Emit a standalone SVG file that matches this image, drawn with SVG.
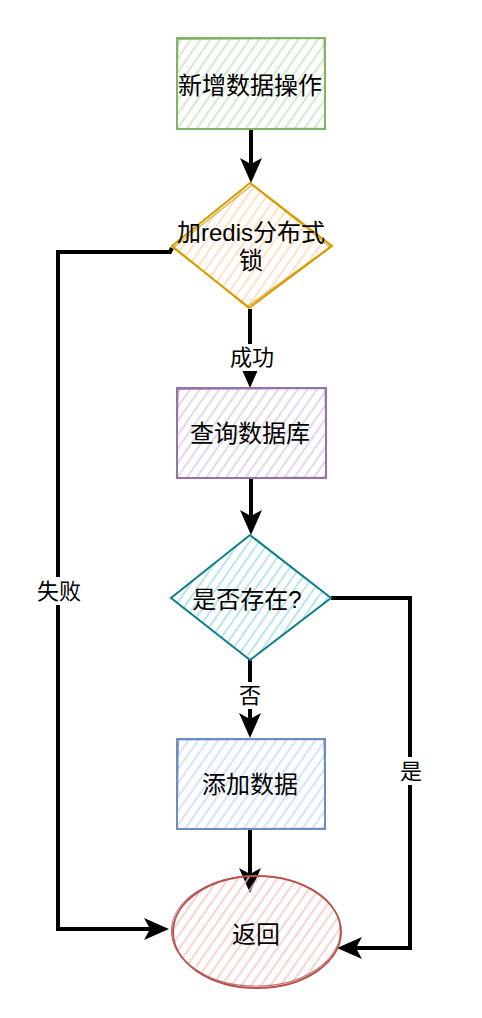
<svg xmlns="http://www.w3.org/2000/svg" width="482" height="1018" viewBox="0 0 482 1018">
<style>
  text { font-family: "Liberation Sans", "Noto Sans CJK SC", sans-serif; fill: #000; text-anchor: middle; dominant-baseline: central; }
  .nt { font-size: 24px; }
  .lt { font-size: 22px; }
  .edge { fill: none; stroke: #000; stroke-width: 4; stroke-linejoin: miter; marker-end: url(#arrow); }
  .lbg { fill: #fff; }
  .o2 { fill: none; stroke-width: 1.2; opacity: 0.8; }
</style>
<defs>
  <marker id="arrow" markerUnits="userSpaceOnUse" viewBox="-14 -12 28 24" refX="0" refY="0" markerWidth="28" markerHeight="24" orient="auto">
    <path d="M12,0 L-13,-11 L-7,0 L-13,11 Z" fill="#000"/>
  </marker>
  <pattern id="hG" width="8" height="8" patternUnits="userSpaceOnUse" patternTransform="rotate(35)"><line x1="3" y1="0" x2="3" y2="8" stroke="#c6e2c3" stroke-width="1.5"/></pattern>
  <pattern id="hO" width="8" height="8" patternUnits="userSpaceOnUse" patternTransform="rotate(35)"><line x1="3" y1="0" x2="3" y2="8" stroke="#ffd9b3" stroke-width="1.5"/></pattern>
  <pattern id="hP" width="8" height="8" patternUnits="userSpaceOnUse" patternTransform="rotate(35)"><line x1="3" y1="0" x2="3" y2="8" stroke="#dacbe3" stroke-width="1.5"/></pattern>
  <pattern id="hT" width="8" height="8" patternUnits="userSpaceOnUse" patternTransform="rotate(35)"><line x1="3" y1="0" x2="3" y2="8" stroke="#a6dde0" stroke-width="1.5"/></pattern>
  <pattern id="hB" width="8" height="8" patternUnits="userSpaceOnUse" patternTransform="rotate(35)"><line x1="3" y1="0" x2="3" y2="8" stroke="#c8dbf6" stroke-width="1.5"/></pattern>
  <pattern id="hR" width="8" height="8" patternUnits="userSpaceOnUse" patternTransform="rotate(35)"><line x1="3" y1="0" x2="3" y2="8" stroke="#f5c4c2" stroke-width="1.5"/></pattern>
</defs>
<rect width="482" height="1018" fill="#fff"/>

<g id="connectors">
  <path class="edge" d="M251,129 L251,171"/>
  <path class="edge" d="M250,309 L250,376"/>
  <path class="edge" d="M251,478 L251,523"/>
  <path class="edge" d="M250,660 L250,726"/>
  <path class="edge" d="M250,829 L250,881"/>
  <path class="edge" d="M172,248 L170,252 L58,252 L58,929 L157,929"/>
  <path class="edge" d="M331,598 L410,598 L410,948 L349,948"/>
  <g id="edge-labels">
    <rect class="lbg" x="228" y="344" width="48" height="27"/>
    <text class="lt" x="252" y="357">成功</text>
    <rect class="lbg" x="238" y="682" width="24" height="27"/>
    <text class="lt" x="250" y="695">否</text>
    <rect class="lbg" x="35" y="577" width="48" height="28"/>
    <text class="lt" x="59" y="591">失败</text>
    <rect class="lbg" x="399" y="757" width="24" height="28"/>
    <text class="lt" x="411" y="771">是</text>
  </g>
</g>

<g id="node-add-op">
  <rect x="177" y="38" width="148" height="91" fill="url(#hG)" stroke="#82b366" stroke-width="2"/>
  <path class="o2" stroke="#82b366" d="M178,39.5 L324,38.5 L325.5,128 L176.5,129.5 Z"/>
  <text class="nt" x="250" y="85">新增数据操作</text>
</g>

<g id="node-lock">
  <path d="M250,183 L332,246 L249,308 L172,246 Z" fill="url(#hO)" stroke="#d79b00" stroke-width="2"/>
  <path class="o2" stroke="#d79b00" d="M252,185 L330,247 L248,306 L173,248 Z"/>
  <text class="nt" x="251" y="232">加redis分布式</text>
  <text class="nt" x="251" y="260">锁</text>
</g>

<g id="node-query">
  <rect x="177" y="388" width="149" height="90" fill="url(#hP)" stroke="#9673a6" stroke-width="2"/>
  <path class="o2" stroke="#9673a6" d="M178,389.5 L325,388.5 L326.5,477 L176.5,478.5 Z"/>
  <text class="nt" x="250" y="433">查询数据库</text>
</g>

<g id="node-exists">
  <path d="M250,535 L331,598 L250,660 L171,598 Z" fill="url(#hT)" stroke="#0e8088" stroke-width="2"/>
  <text class="nt" x="247" y="599">是否存在?</text>
</g>

<g id="node-insert">
  <rect x="177" y="739" width="148" height="90" fill="url(#hB)" stroke="#6c8ebf" stroke-width="2"/>
  <path class="o2" stroke="#6c8ebf" d="M178.5,740 L324,739.5 L325.5,828 L177,829 Z"/>
  <text class="nt" x="250" y="784">添加数据</text>
</g>

<g id="node-return">
  <ellipse cx="257" cy="932" rx="84" ry="56" fill="url(#hR)" stroke="#b85450" stroke-width="2"/>
  <ellipse class="o2" stroke="#b85450" cx="256" cy="931" rx="84.5" ry="55"/>
  <text class="nt" x="256" y="934">返回</text>
</g>
</svg>
